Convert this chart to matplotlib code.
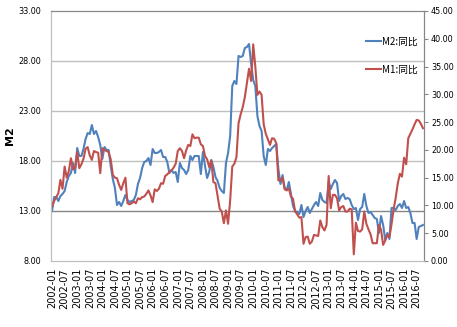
import matplotlib
matplotlib.use("Agg")
import matplotlib.pyplot as plt
from matplotlib import font_manager

# monthly YoY growth, 2002-01 .. 2016-10
m2 = [13.0, 14.4, 14.4, 14.0, 14.5, 14.7, 15.0, 15.9, 16.5, 16.8, 17.8, 16.8,
      19.3, 18.5, 18.5, 19.2, 20.2, 20.8, 20.7, 21.6, 20.7, 21.0, 20.4, 19.6,
      18.2, 19.4, 19.1, 19.1, 17.5, 16.2, 15.3, 13.6, 13.9, 13.5, 14.0, 14.6,
      14.1, 13.9, 14.0, 14.1, 14.6, 15.7, 16.3, 17.3, 17.9, 18.0, 18.3, 17.6,
      19.2, 18.8, 18.8, 18.9, 19.1, 18.4, 18.4, 17.9, 16.8, 17.1, 16.8, 16.9,
      15.9, 17.8, 17.3, 17.1, 16.7, 17.1, 18.5, 18.1, 18.5, 18.5, 18.5, 16.7,
      18.9, 17.5, 16.3, 16.9, 18.1, 17.4, 16.4, 16.0, 15.3, 15.0, 14.8, 17.8,
      18.8, 20.5, 25.5, 26.0, 25.7, 28.5, 28.4, 28.5, 29.3, 29.4, 29.7, 27.7,
      26.1, 25.5, 22.5, 21.5, 21.0, 18.5, 17.6, 19.2, 19.0, 19.3, 19.5, 19.7,
      17.2, 15.7, 16.6, 15.3, 15.1, 15.9, 14.7, 13.5, 13.0, 12.9, 12.7, 13.6,
      12.4, 13.0, 13.4, 12.8, 13.2, 13.6, 13.9, 13.5, 14.8, 14.1, 13.9, 13.8,
      15.9, 15.2, 15.7, 16.1, 15.8, 14.0, 14.5, 14.7, 14.2, 14.3, 14.2, 13.6,
      13.2, 13.3, 12.1, 13.2, 13.4, 14.7, 13.5, 12.8, 12.9, 12.6, 12.3, 12.2,
      10.8, 12.5, 11.6, 10.1, 10.8, 10.2, 13.3, 13.3, 13.1, 13.5, 13.7, 13.3,
      14.0, 13.3, 13.4, 12.8, 11.8, 11.8, 10.2, 11.4, 11.5, 11.6]

m1 = [9.8, 10.8, 11.5, 12.2, 14.6, 13.0, 17.0, 15.0, 16.2, 18.5, 16.5, 16.8,
      19.6, 16.7, 17.4, 18.4, 20.2, 20.5, 19.0, 18.2, 19.8, 19.6, 19.5, 15.8,
      20.3, 20.0, 19.8, 19.6, 18.3, 15.5, 15.0, 14.9, 13.7, 12.8, 14.0, 15.0,
      10.4, 10.2, 10.4, 10.7, 10.4, 11.3, 11.1, 11.5, 11.6, 12.1, 12.7, 11.8,
      10.6, 12.9, 12.6, 13.0, 14.0, 13.9, 15.3, 15.6, 16.0, 16.3, 16.8, 17.5,
      19.8, 20.3, 19.8, 18.5, 19.9, 20.9, 20.7, 22.8, 22.1, 22.2, 22.2, 21.0,
      20.7, 18.9, 18.3, 16.9, 18.1, 14.2, 14.0, 11.7, 9.4, 8.9, 6.8, 9.1,
      6.7, 10.9, 17.0, 17.5, 18.7, 24.8, 26.4, 27.7, 29.5, 32.0, 34.6, 32.4,
      39.0, 35.0, 29.9, 30.5, 29.9, 24.6, 22.9, 21.9, 20.9, 22.1, 22.0, 21.2,
      14.5, 14.5, 15.0, 12.9, 12.7, 13.1, 11.6, 11.2, 8.9, 8.4, 7.8, 7.9,
      3.1, 4.3, 4.4, 3.1, 3.5, 4.7, 4.6, 4.5, 7.3, 6.1, 5.5, 6.5,
      15.3, 9.5, 11.9, 11.9, 11.3, 9.1, 9.7, 9.9, 8.9, 8.9, 9.4, 9.3,
      1.2, 6.9, 5.4, 5.3, 5.7, 8.9, 6.7, 5.7, 4.8, 3.2, 3.2, 3.2,
      6.5, 5.6, 2.9, 3.7, 4.7, 4.3, 6.6, 9.3, 11.4, 14.0, 15.7, 15.2,
      18.6, 17.4, 22.1, 22.9, 23.7, 24.6, 25.4, 25.3, 24.7, 23.9]

months = [f"{y}-{m:02d}" for y in range(2002, 2017) for m in range(1, 13)][:len(m2)]
tick_pos = list(range(0, len(months), 6))
tick_labels = [months[i] for i in tick_pos]

blue = "#4F81BD"
red = "#C0504D"

# pick a narrow face for the value labels if one is installed
names = {f.name for f in font_manager.fontManager.ttflist}
condensed_dejavu = any(f.name == "DejaVu Sans" and f.stretch == "condensed"
                       for f in font_manager.fontManager.ttflist)
if "Liberation Sans Narrow" in names:
    num_font = {"family": ["Liberation Sans Narrow", "DejaVu Sans"], "fontsize": 7.5}
elif condensed_dejavu:
    num_font = {"family": "DejaVu Sans", "fontstretch": "condensed", "fontsize": 6.5}
else:
    num_font = {"family": "DejaVu Sans", "fontsize": 6}
cjk = ["Noto Sans CJK SC", "DejaVu Sans"]

fig = plt.figure(figsize=(4.57, 3.27), dpi=100)
ax = fig.add_axes([51 / 457, 1 - 261 / 327, 373 / 457, 250 / 327])
ax2 = ax.twinx()

x = list(range(len(m2)))
l1, = ax.plot(x, m2, color=blue, lw=1.5, label="M2:同比")
l2, = ax2.plot(x, m1, color=red, lw=1.5, label="M1:同比")

left_ticks = [8, 13, 18, 23, 28, 33]
right_ticks = list(range(0, 46, 5))
ax.set_xlim(-0.5, len(m2) - 0.5)
ax.set_ylim(8, 33)
ax.set_yticks(left_ticks)
ax.set_yticklabels([f"{v:.2f}" for v in left_ticks], **num_font)
ax2.set_ylim(0, 45)
ax2.set_yticks(right_ticks)
ax2.set_yticklabels([f"{v:.2f}" for v in right_ticks], **num_font)

for v in [18, 23, 28]:
    ax.axhline(v, color="#BFBFBF", lw=1, zorder=0)
ax.axhline(13, color="#868686", lw=1, zorder=0)

ax.set_xticks(tick_pos)
ax.set_xticklabels(tick_labels, rotation=90, fontsize=7)
ax.tick_params(axis="x", length=0, pad=5)
ax.tick_params(axis="y", length=0, pad=7)
ax2.tick_params(axis="y", length=3, color="#868686", pad=2)

for a in (ax, ax2):
    a.spines["left"].set_color("#BFBFBF")
    a.spines["bottom"].set_color("#BFBFBF")
    a.spines["top"].set_color("#868686")
    a.spines["right"].set_color("#868686")

ax.set_ylabel("M2", fontsize=8, fontweight="bold")
ax.yaxis.set_label_coords(-36 / 373, 0.5)

ax2.legend(handles=[l1, l2], loc="upper left", bbox_to_anchor=(362 / 457, 1 - 33 / 327),
           bbox_transform=fig.transFigure, frameon=False, prop={"family": cjk, "size": 7},
           handlelength=1.6, handletextpad=0.1, labelspacing=1.8, borderaxespad=0)

fig.savefig("out.png", dpi=100)
